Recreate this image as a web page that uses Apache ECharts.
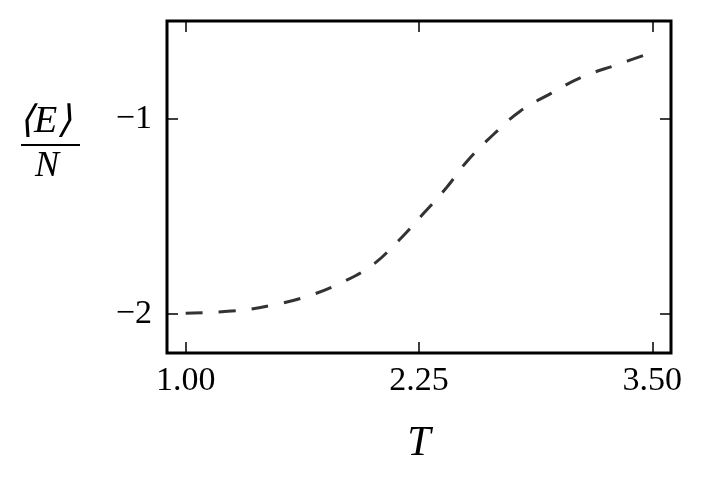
<!DOCTYPE html>
<html>
<head>
<meta charset="utf-8">
<script src="https://cdn.jsdelivr.net/npm/echarts@6/dist/echarts.min.js"></script>
<style>
    html, body { margin: 0; padding: 0; background: #fff; }
    #chart { width: 706px; height: 489px; }
</style>
</head>
<body>
<div id="chart"></div>
<script>
    // temperature T and mean energy per spin <E>/N
    var temps = [1.0, 1.28, 1.48, 1.66, 1.83, 2.0, 2.14, 2.27, 2.4, 2.51, 2.65, 2.79, 2.96, 3.12, 3.31, 3.49];
    var energies = [-1.996, -1.983, -1.952, -1.907, -1.842, -1.75, -1.625, -1.49, -1.35, -1.215, -1.08, -0.963, -0.869, -0.788, -0.724, -0.664];
    var xTicks = [1.0, 2.25, 3.5];
    var yTicks = [-2, -1];

    var font = 'Liberation Serif';
    var chart = echarts.init(document.getElementById('chart'));

    var points = temps.map(function (t, i) { return [t, energies[i]]; });

    var tickStyle = { color: '#000', width: 1.5 };

    var option = {
        animation: false,
        backgroundColor: '#fff',
        grid: {
            left: 167, right: 35, top: 21, bottom: 136,
            show: true,
            borderColor: '#000',
            borderWidth: 3
        },
        xAxis: [{
            type: 'value',
            min: 0.9, max: 3.6,
            position: 'bottom',
            axisLine: { show: false },
            splitLine: { show: false },
            axisTick: { show: true, inside: true, length: 11, customValues: xTicks, lineStyle: tickStyle },
            axisLabel: {
                customValues: xTicks,
                margin: 11,
                fontFamily: font, fontSize: 34, color: '#000',
                formatter: function (v) { return v.toFixed(2); }
            },
            name: 'T',
            nameLocation: 'middle',
            nameGap: 70,
            nameTextStyle: { fontFamily: font, fontStyle: 'italic', fontSize: 42, color: '#000' }
        }, {
            type: 'value',
            min: 0.9, max: 3.6,
            position: 'top',
            axisLine: { show: false },
            splitLine: { show: false },
            axisTick: { show: true, inside: true, length: 11, customValues: xTicks, lineStyle: tickStyle },
            axisLabel: { show: false }
        }],
        yAxis: [{
            type: 'value',
            min: -2.2, max: -0.5,
            position: 'left',
            axisLine: { show: false },
            splitLine: { show: false },
            axisTick: { show: true, inside: true, length: 11, customValues: yTicks, lineStyle: tickStyle },
            axisLabel: {
                customValues: yTicks,
                margin: 15,
                fontFamily: font, fontSize: 34, color: '#000',
                formatter: function (v) { return '\u2212' + Math.abs(v); }
            }
        }, {
            type: 'value',
            min: -2.2, max: -0.5,
            position: 'right',
            axisLine: { show: false },
            splitLine: { show: false },
            axisTick: { show: true, inside: true, length: 11, customValues: yTicks, lineStyle: tickStyle },
            axisLabel: { show: false }
        }],
        // y axis title as a fraction <E>/N
        graphic: [{
            type: 'text',
            left: 19, top: 103,
            style: { text: '\u27E8E\u27E9', font: 'italic 38px "' + font + '"', fill: '#000' }
        }, {
            type: 'line',
            shape: { x1: 21, y1: 145, x2: 80, y2: 145 },
            style: { stroke: '#000', lineWidth: 2 }
        }, {
            type: 'text',
            left: 35, top: 149,
            style: { text: 'N', font: 'italic 36px "' + font + '"', fill: '#000' }
        }],
        series: [{
            type: 'line',
            data: points,
            smooth: 0.4,
            showSymbol: false,
            lineStyle: { color: '#333', width: 3, type: [17, 16] }
        }]
    };

    chart.setOption(option);
</script>
</body>
</html>
